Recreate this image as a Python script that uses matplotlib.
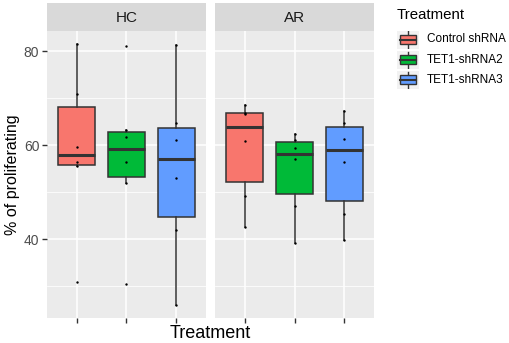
import numpy as np
import matplotlib.pyplot as plt
from matplotlib.patches import Rectangle

plt.rcParams['font.family'] = ['Liberation Sans', 'DejaVu Sans']

# data
groups = ["HC", "AR"]
treatments = ["Control shRNA", "TET1-shRNA2", "TET1-shRNA3"]
colors = ["#F8766D", "#00BA38", "#619CFF"]

hc_control = [81.5, 70.9, 59.6, 56.4, 55.6, 30.9]
hc_shrna2 = [81.1, 63.2, 61.8, 56.5, 52.0, 30.4]
hc_shrna3 = [81.3, 64.6, 61.1, 53.0, 41.9, 26.0]
ar_control = [68.5, 66.9, 66.7, 60.9, 49.2, 42.6]
ar_shrna2 = [62.4, 61.0, 59.3, 57.0, 47.1, 39.2]
ar_shrna3 = [67.3, 64.6, 61.4, 56.4, 45.3, 39.9]

data = {"HC": [hc_control, hc_shrna2, hc_shrna3],
        "AR": [ar_control, ar_shrna2, ar_shrna3]}

W, H = 510, 343
fig = plt.figure(figsize=(W / 100, H / 100), dpi=100)

def px(x0, y0, x1, y1):
    return [x0 / W, 1 - y1 / H, (x1 - x0) / W, (y1 - y0) / H]

allv = np.concatenate([np.concatenate(v) for v in data.values()])
rng = allv.max() - allv.min()
ylim = (allv.min() - 0.05 * rng, allv.max() + 0.05 * rng)

panels = [(47, 206), (215, 374)]
edge = "#333333"
for g, (x0, x1) in zip(groups, panels):
    ax = fig.add_axes(px(x0, 31, x1, 318))
    ax.set_facecolor("#EBEBEB")
    for s in ax.spines.values():
        s.set_visible(False)
    for i, vals in enumerate(data[g]):
        bp = ax.boxplot(vals, positions=[i + 1], widths=0.75, patch_artist=True,
                        showfliers=False, showcaps=False, whis=1.5,
                        boxprops=dict(facecolor=colors[i], edgecolor=edge, linewidth=1.1),
                        medianprops=dict(color=edge, linewidth=2.2),
                        whiskerprops=dict(color=edge, linewidth=1.1))
        for k in bp.values():
            for a in k:
                a.set_zorder(2)
        ax.scatter([i + 1] * len(vals), vals, s=3, color="black", zorder=3, linewidths=0)
    ax.set_xlim(0.4, 3.6)
    ax.set_ylim(*ylim)
    ax.set_yticks([40, 60, 80])
    ax.set_yticks([30, 50, 70], minor=True)
    ax.set_xticks([1, 2, 3])
    ax.set_xticklabels([])
    ax.grid(True, which="major", color="white", linewidth=1.1)
    ax.grid(True, which="minor", axis="y", color="white", linewidth=0.55)
    ax.set_axisbelow(True)
    ax.tick_params(axis="x", length=3.5, width=1, color=edge)
    ax.tick_params(axis="y", which="minor", length=0)
    if g == "HC":
        ax.tick_params(axis="y", length=3.5, width=1, color=edge, labelsize=10,
                       labelcolor="#4D4D4D", pad=2)
        ax.set_ylabel("% of proliferating", fontsize=11.5, labelpad=3)
    else:
        ax.tick_params(axis="y", length=0, labelleft=False)
    strip = fig.add_axes(px(x0, 3, x1, 31))
    strip.set_facecolor("#D9D9D9")
    strip.set_xticks([])
    strip.set_yticks([])
    for s in strip.spines.values():
        s.set_visible(False)
    strip.text(0.5, 0.48, g, ha="center", va="center", fontsize=11, color="#1A1A1A",
               transform=strip.transAxes)

fig.text((47 + 374) / 2 / W, 1 - 333 / H, "Treatment", ha="center", va="center", fontsize=13)

# legend
fig.text(397 / W, 1 - 15 / H, "Treatment", ha="left", va="center", fontsize=10.8)
for i, (t, c) in enumerate(zip(treatments, colors)):
    yc = 39.5 + 20.2 * i
    kax = fig.add_axes(px(397, yc - 9, 419, yc + 9))
    kax.set_xlim(0, 1)
    kax.set_ylim(0, 1)
    kax.set_facecolor("#F2F2F2")
    kax.set_xticks([])
    kax.set_yticks([])
    for s in kax.spines.values():
        s.set_visible(False)
    kax.plot([0.5, 0.5], [0.05, 0.95], color=edge, linewidth=1)
    kax.add_patch(Rectangle((0.12, 0.25), 0.76, 0.5, facecolor=c, edgecolor=edge, linewidth=1, zorder=2))
    kax.plot([0.12, 0.88], [0.5, 0.5], color=edge, linewidth=1.5, zorder=3)
    fig.text(427 / W, 1 - yc / H, t, ha="left", va="center", fontsize=8.5)

fig.savefig("out.png", dpi=100)
